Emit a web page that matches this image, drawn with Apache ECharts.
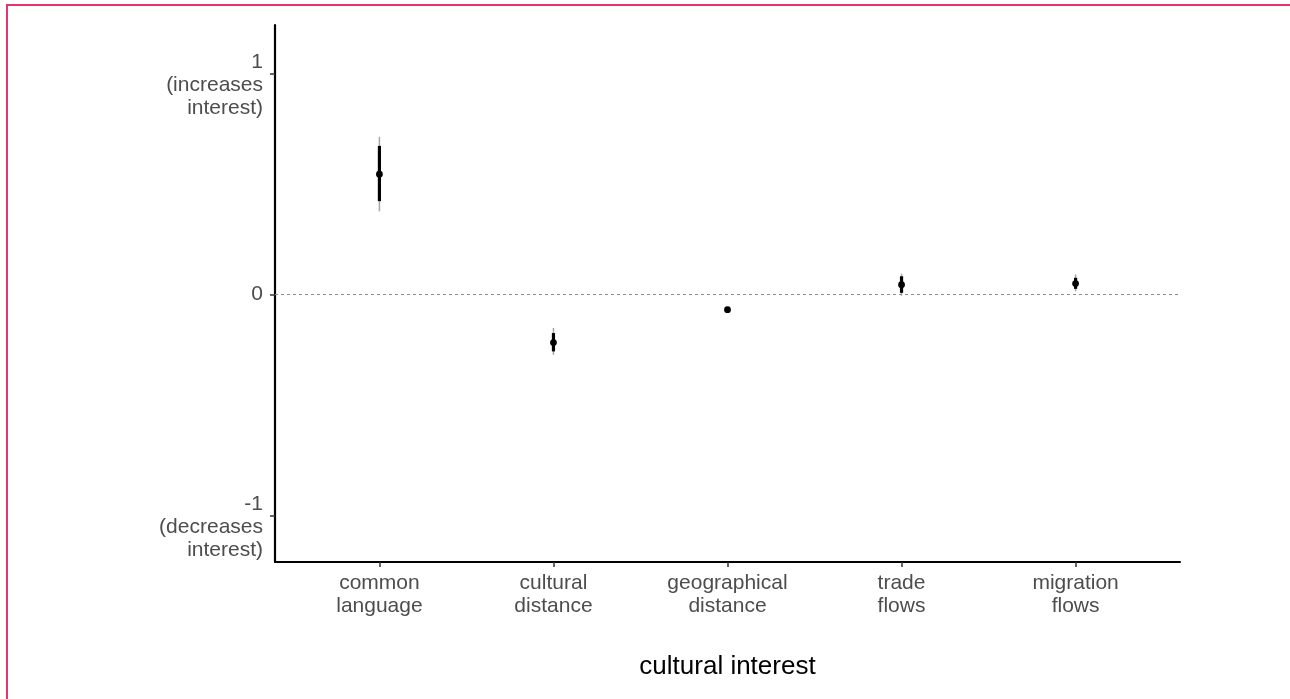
<!DOCTYPE html>
<html>
<head>
<meta charset="utf-8">
<script src="https://cdn.jsdelivr.net/npm/echarts@6/dist/echarts.min.js"></script>
<style>
  html, body { margin: 0; padding: 0; background: #fff; }
  #chart { width: 1290px; height: 699px; }
</style>
</head>
<body>
<div id="chart"></div>
<script>
const categories = ["common\nlanguage", "cultural\ndistance", "geographical\ndistance", "trade\nflows", "migration\nflows"];
const estimate = [0.545, -0.217, -0.068, 0.045, 0.05];
const innerLow = [0.423, -0.257, -0.072, 0.008, 0.026];
const innerHigh = [0.673, -0.174, -0.064, 0.083, 0.076];
const outerLow = [0.377, -0.273, -0.075, -0.005, 0.015];
const outerHigh = [0.714, -0.151, -0.061, 0.095, 0.091];
const yTicks = [-1, 0, 1];
const yTickLabels = { "-1": "\n-1\n(decreases\ninterest)", "0": "0", "1": "\n1\n(increases\ninterest)" };

const positions = categories.map((c, i) => i + 1);
const rows = categories.map((c, i) => [positions[i], estimate[i], innerLow[i], innerHigh[i], outerLow[i], outerHigh[i]]);

const chart = echarts.init(document.getElementById("chart"));

chart.setOption({
  backgroundColor: "#fff",
  animation: false,
  graphic: [
    {
      type: "rect",
      shape: { x: 7, y: 5, width: 1400, height: 800 },
      style: { fill: "none", stroke: "#e8336b", lineWidth: 2 },
      silent: true,
    },
  ],
  grid: { left: 275, right: 110, top: 25, bottom: 137 },
  xAxis: {
    type: "value",
    min: 0.4,
    max: 5.6,
    name: "cultural interest",
    nameLocation: "middle",
    nameGap: 92,
    nameTextStyle: { color: "#000", fontSize: 26, fontFamily: "Liberation Sans" },
    axisLine: { show: true, onZero: false, lineStyle: { color: "#000", width: 2.2 } },
    axisTick: { show: true, customValues: positions, length: 5, lineStyle: { color: "#333", width: 1.5 } },
    axisLabel: {
      customValues: positions,
      formatter: (v) => categories[Math.round(v) - 1] || "",
      color: "#4d4d4d",
      fontSize: 21,
      lineHeight: 23,
      margin: 10,
      fontFamily: "Liberation Sans",
    },
    splitLine: { show: false },
  },
  yAxis: {
    type: "value",
    min: -1.21,
    max: 1.22,
    axisLine: { show: true, onZero: false, lineStyle: { color: "#000", width: 2.2 } },
    axisTick: { show: true, customValues: yTicks, length: 5, lineStyle: { color: "#333", width: 1.5 } },
    axisLabel: {
      customValues: yTicks,
      formatter: (v) => yTickLabels[String(Math.round(v))],
      color: "#4d4d4d",
      fontSize: 21,
      lineHeight: 23,
      margin: 12,
      align: "right",
      fontFamily: "Liberation Sans",
    },
    splitLine: { show: false },
  },
  series: [
    {
      type: "custom",
      data: rows,
      encode: { x: 0, y: 1 },
      markLine: {
        silent: true,
        symbol: "none",
        label: { show: false },
        lineStyle: { color: "#8c8c8c", type: [3, 3], width: 1 },
        data: [{ yAxis: 0 }],
      },
      renderItem: (params, api) => {
        const x = api.value(0);
        const mid = api.coord([x, api.value(1)]);
        const iLo = api.coord([x, api.value(2)]);
        const iHi = api.coord([x, api.value(3)]);
        const oLo = api.coord([x, api.value(4)]);
        const oHi = api.coord([x, api.value(5)]);
        return {
          type: "group",
          children: [
            {
              type: "line",
              shape: { x1: oLo[0], y1: oLo[1], x2: oHi[0], y2: oHi[1] },
              style: { stroke: "#a6a6a6", lineWidth: 1.5 },
            },
            {
              type: "line",
              shape: { x1: iLo[0], y1: iLo[1], x2: iHi[0], y2: iHi[1] },
              style: { stroke: "#000", lineWidth: 3.2 },
            },
            {
              type: "circle",
              shape: { cx: mid[0], cy: mid[1], r: 3.4 },
              style: { fill: "#000" },
            },
          ],
        };
      },
    },
  ],
});

window.addEventListener("resize", () => chart.resize());
</script>
</body>
</html>
